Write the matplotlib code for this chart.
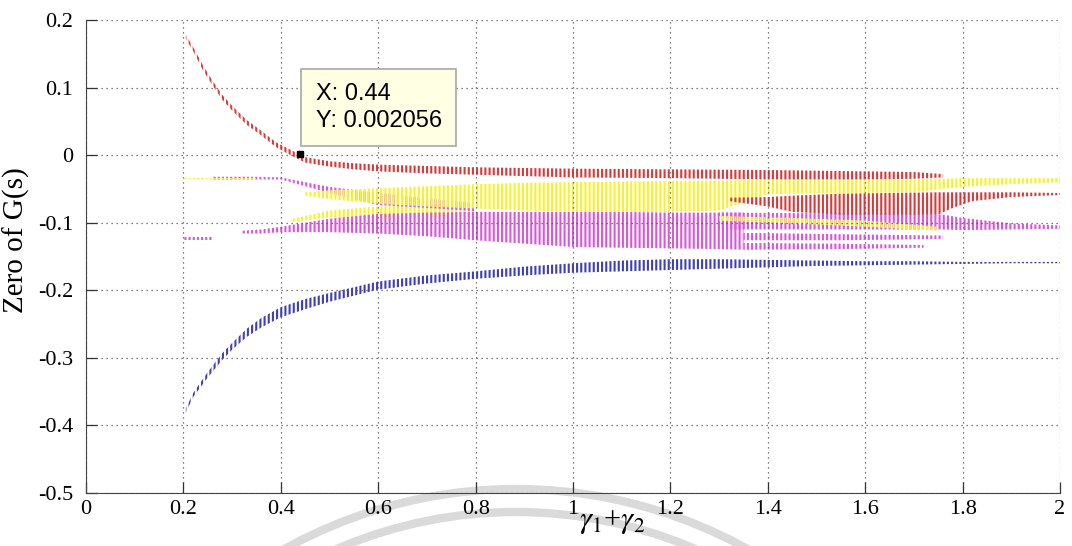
import numpy as np
import matplotlib
matplotlib.use('Agg')
import matplotlib.pyplot as plt
from matplotlib.patches import Arc

plt.rcParams['font.family'] = ['Liberation Serif', 'DejaVu Serif']
plt.rcParams['mathtext.fontset'] = 'stix'
plt.rcParams['axes.unicode_minus'] = False
plt.rcParams['hatch.linewidth'] = 1.5

## data: each band is (x, upper edge, lower edge)

# red, upper branch
red1_x  = [0.205, 0.22, 0.24, 0.26, 0.28, 0.30, 0.33, 0.36, 0.39, 0.42, 0.45, 0.50, 0.55, 0.60,
           0.70, 0.80, 0.90, 1.00, 1.20, 1.40, 1.60, 1.70, 1.76]
red1_hi = [0.178, 0.160, 0.133, 0.110, 0.089, 0.073, 0.052, 0.036, 0.019, 0.008, -0.003, -0.009,
           -0.012, -0.014, -0.016, -0.018, -0.019, -0.020, -0.021, -0.022, -0.024, -0.025, -0.028]
red1_lo = [0.172, 0.154, 0.126, 0.103, 0.082, 0.066, 0.045, 0.029, 0.012, 0.000, -0.011, -0.017,
           -0.021, -0.024, -0.027, -0.029, -0.031, -0.033, -0.034, -0.036, -0.036, -0.035, -0.033]

# red, lower branch
red2_x  = [1.32, 1.40, 1.45, 1.55, 1.65, 1.75, 1.78, 1.82, 1.90, 2.00]
red2_hi = [-0.063, -0.062, -0.060, -0.057, -0.056, -0.055, -0.055, -0.055, -0.055, -0.056]
red2_lo = [-0.068, -0.076, -0.084, -0.088, -0.088, -0.088, -0.078, -0.068, -0.062, -0.059]

# yellow
yel0_x  = [0.20, 0.35]
yel0_hi = [-0.034, -0.034]
yel0_lo = [-0.036, -0.036]

yel1_x  = [0.45, 0.50, 0.60, 0.70, 0.80, 0.90, 1.00, 1.10, 1.20, 1.30, 1.35, 1.40, 1.50, 1.60,
           1.70, 1.76, 1.80, 1.90, 2.00]
yel1_hi = [-0.055, -0.052, -0.049, -0.046, -0.043, -0.041, -0.040, -0.039, -0.038, -0.038, -0.037,
           -0.037, -0.037, -0.037, -0.036, -0.035, -0.034, -0.034, -0.034]
yel1_lo = [-0.060, -0.065, -0.072, -0.076, -0.079, -0.082, -0.084, -0.084, -0.084, -0.082, -0.070,
           -0.058, -0.056, -0.056, -0.055, -0.050, -0.047, -0.043, -0.040]

yel2_x  = [0.42, 0.50, 0.60, 0.70, 0.80]
yel2_hi = [-0.095, -0.082, -0.076, -0.074, -0.076]
yel2_lo = [-0.099, -0.092, -0.094, -0.092, -0.088]

yel3_x  = [1.30, 1.45, 1.60, 1.75]
yel3_hi = [-0.090, -0.093, -0.097, -0.106]
yel3_lo = [-0.097, -0.101, -0.106, -0.112]

# magenta
mag0_x  = [0.20, 0.26]
mag0_hi = [-0.121, -0.121]
mag0_lo = [-0.125, -0.125]

mag1_x  = [0.26, 0.35, 0.40, 0.45, 0.50, 0.60, 0.70, 0.80]
mag1_hi = [-0.032, -0.032, -0.033, -0.040, -0.047, -0.056, -0.064, -0.071]
mag1_lo = [-0.036, -0.036, -0.036, -0.046, -0.056, -0.074, -0.078, -0.083]

mag2_x  = [0.32, 0.36, 0.40, 0.45, 0.50, 0.60, 0.70, 0.80, 0.90, 1.00, 1.10, 1.20, 1.30, 1.35]
mag2_hi = [-0.112, -0.110, -0.106, -0.100, -0.094, -0.087, -0.085, -0.084, -0.084, -0.084,
           -0.084, -0.085, -0.085, -0.085]
mag2_lo = [-0.116, -0.116, -0.114, -0.114, -0.114, -0.116, -0.120, -0.126, -0.131, -0.136,
           -0.137, -0.138, -0.139, -0.140]

mag3_x  = [1.30, 1.50, 1.70, 1.76, 1.80, 1.90, 2.00]
mag3_hi = [-0.085, -0.086, -0.087, -0.088, -0.093, -0.101, -0.104]
mag3_lo = [-0.110, -0.110, -0.110, -0.110, -0.111, -0.110, -0.109]

mag4_x  = [1.35, 1.55, 1.76]
mag4_hi = [-0.115, -0.117, -0.119]
mag4_lo = [-0.126, -0.126, -0.124]

mag5_x  = [1.35, 1.55, 1.72]
mag5_hi = [-0.130, -0.131, -0.133]
mag5_lo = [-0.140, -0.139, -0.137]

# blue
blu_x  = [0.205, 0.22, 0.25, 0.28, 0.30, 0.33, 0.36, 0.40, 0.45, 0.50, 0.60, 0.70, 0.80, 0.90,
          1.00, 1.10, 1.20, 1.30, 1.40, 1.50, 1.60, 1.70, 1.80, 1.90, 2.00]
blu_hi = [-0.375, -0.352, -0.321, -0.293, -0.278, -0.257, -0.241, -0.225, -0.213, -0.204, -0.187,
          -0.178, -0.172, -0.165, -0.160, -0.156, -0.154, -0.154, -0.155, -0.156, -0.157, -0.157,
          -0.158, -0.158, -0.158]
blu_lo = [-0.381, -0.358, -0.329, -0.303, -0.288, -0.269, -0.255, -0.240, -0.228, -0.217, -0.199,
          -0.190, -0.183, -0.178, -0.174, -0.172, -0.170, -0.168, -0.166, -0.164, -0.163, -0.162,
          -0.161, -0.160, -0.160]

# data tip
tip_x = 0.44
tip_y = 0.002056

xticks = [0, 0.2, 0.4, 0.6, 0.8, 1, 1.2, 1.4, 1.6, 1.8, 2]
xtick_labels = ['0', '0.2', '0.4', '0.6', '0.8', '1', '1.2', '1.4', '1.6', '1.8', '2']
yticks = [-0.5, -0.4, -0.3, -0.2, -0.1, 0, 0.1, 0.2]
ytick_labels = ['-0.5', '-0.4', '-0.3', '-0.2', '-0.1', '0', '0.1', '0.2']

c_red = '#d63a3a'
c_yel = '#f6f22a'
c_mag = '#d856d8'
c_blu = '#3e3eb8'

fig = plt.figure(figsize=(10.72, 5.46), dpi=100)

# faint watermark arcs behind the plot (pixel coordinates)
bg = fig.add_axes([0, 0, 1, 1], zorder=0)
bg.set_xlim(0, 1072)
bg.set_ylim(546, 0)
bg.axis('off')
bg.add_patch(Arc((516, 966), 2 * 477, 2 * 477, theta1=180, theta2=360, color='#dadada', lw=6))
bg.add_patch(Arc((516, 966), 2 * 454, 2 * 454, theta1=180, theta2=360, color='#dadada', lw=6))

ax = fig.add_axes([86 / 1072, 1 - 493 / 546, 974 / 1072, 473 / 546], zorder=1)
ax.set_facecolor('none')

bands = [
    (yel2_x, yel2_hi, yel2_lo, c_yel),
    (mag0_x, mag0_hi, mag0_lo, c_mag),
    (mag1_x, mag1_hi, mag1_lo, c_mag),
    (mag2_x, mag2_hi, mag2_lo, c_mag),
    (mag3_x, mag3_hi, mag3_lo, c_mag),
    (mag4_x, mag4_hi, mag4_lo, c_mag),
    (mag5_x, mag5_hi, mag5_lo, c_mag),
    (yel0_x, yel0_hi, yel0_lo, c_yel),
    (yel1_x, yel1_hi, yel1_lo, c_yel),
    (yel3_x, yel3_hi, yel3_lo, c_yel),
    (red1_x, red1_hi, red1_lo, c_red),
    (red2_x, red2_hi, red2_lo, c_red),
    (blu_x, blu_hi, blu_lo, c_blu),
]
for bx, bhi, blo, col in bands:
    ax.fill_between(bx, blo, bhi, facecolor='none', edgecolor=col, linewidth=0, hatch='||||')

# data tip marker and box
ax.plot([tip_x], [tip_y], marker='s', color='black', ms=4.5, zorder=5)
ax.annotate(f'X: {tip_x:g}\nY: {tip_y:.6f}', xy=(tip_x, tip_y), xytext=(11, 16),
            textcoords='offset points', ha='left', va='bottom',
            fontsize=17, family=['Liberation Sans', 'DejaVu Sans'], linespacing=1.25,
            bbox=dict(boxstyle='square,pad=0.62', fc='#ffffe4', ec='#a8a8a8', lw=1.2), zorder=6)

ax.set_xlim(0, 2)
ax.set_ylim(-0.5, 0.2)
ax.set_xticks(xticks)
ax.set_xticklabels(xtick_labels)
ax.set_yticks(yticks)
ax.set_yticklabels(ytick_labels)
ax.tick_params(direction='in', length=8, width=0.9, labelsize=16, colors='#333333')
ax.tick_params(axis='y', pad=9)
ax.tick_params(axis='x', pad=5)
for lab in ax.get_xticklabels() + ax.get_yticklabels():
    lab.set_color('black')
ax.grid(True, linestyle=(0, (1, 3)), color='#555555', linewidth=0.9)
ax.spines['top'].set_visible(False)
ax.spines['right'].set_visible(False)
ax.spines['left'].set_color('#444444')
ax.spines['bottom'].set_color('#444444')

ax.set_ylabel('Zero of G(s)', fontsize=21)
ax.yaxis.set_label_coords(-0.0575, 0.535)
ax.set_xlabel(r'$\gamma_1$+$\gamma_2$', fontsize=22)
ax.xaxis.set_label_coords(0.54, -0.03)

fig.savefig('out.png', dpi=100)
